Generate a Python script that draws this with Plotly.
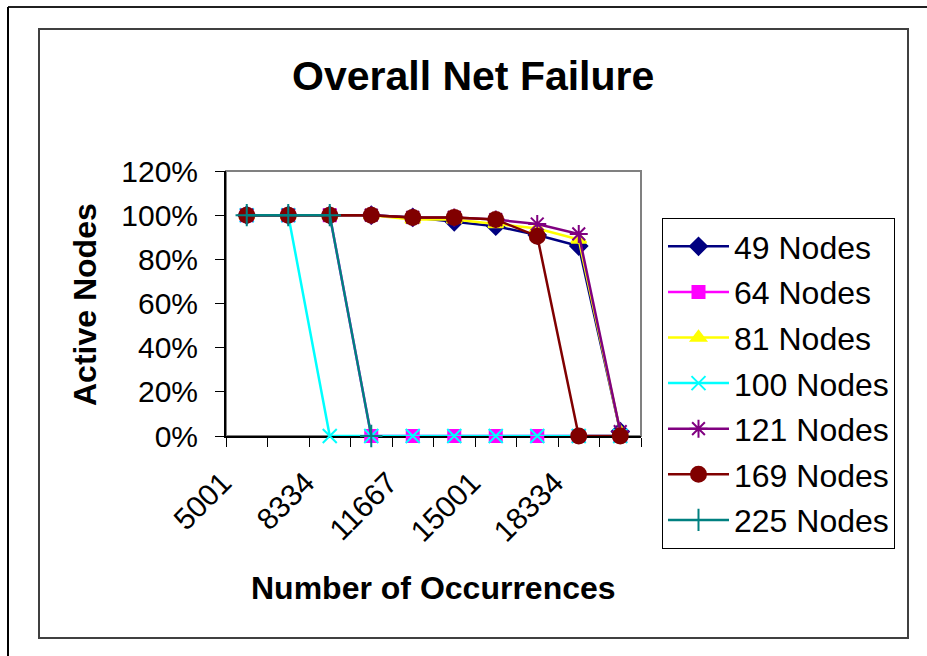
import plotly.graph_objects as go

categories = ["5001", "6667", "8334", "10001", "11667", "13334", "15001", "16667", "18334", "20001"]
tick_labels = ["5001", "", "8334", "", "11667", "", "15001", "", "18334", ""]

nodes_49 = [1.00, 1.00, 1.00, 1.00, 0.99, 0.97, 0.95, 0.91, 0.86, 0.02]
nodes_64 = [1.00, 1.00, 1.00, 0.00, 0.00, 0.00, 0.00, 0.00, 0.00, 0.00]
nodes_81 = [1.00, 1.00, 1.00, 1.00, 0.98, 0.98, 0.96, 0.94, 0.89, 0.02]
nodes_100 = [1.00, 1.00, 0.00, 0.00, 0.00, 0.00, 0.00, 0.00, 0.00, 0.00]
nodes_121 = [1.00, 1.00, 1.00, 1.00, 0.99, 0.99, 0.98, 0.96, 0.915, 0.02]
nodes_169 = [1.00, 1.00, 1.00, 1.00, 0.99, 0.99, 0.98, 0.905, 0.00, 0.00]
nodes_225 = [1.00, 1.00, 1.00, 0.00, None, None, None, None, None, None]

series_names = ["49 Nodes", "64 Nodes", "81 Nodes", "100 Nodes", "121 Nodes", "169 Nodes", "225 Nodes"]
series_values = [nodes_49, nodes_64, nodes_81, nodes_100, nodes_121, nodes_169, nodes_225]
series_colors = ["#000080", "#FF00FF", "#FFFF00", "#00FFFF", "#800080", "#800000", "#008080"]
series_symbols = ["diamond", "square", "triangle-up", "x-thin-open", "asterisk-open", "circle", "cross-thin-open"]
series_sizes = [13, 12, 13, 14, 15, 15, 16]

FONT = "Liberation Sans, Arial, sans-serif"

fig = go.Figure()
for i, (name, vals, col, sym, sz) in enumerate(zip(series_names, series_values, series_colors, series_symbols, series_sizes)):
    fig.add_trace(go.Scatter(
        x=categories, y=vals, name=name, mode="lines+markers",
        line=dict(color=col, width=2.5),
        marker=dict(symbol=sym, size=sz, color=col, line=dict(color=col, width=2)),
        cliponaxis=False, connectgaps=False, legendgroup=f"g{i}",
    ))

# plot-area geometry (pixels) used for decorative frames
L, R, T, B = 226, 641, 171, 436
W, H = 927, 656
def px(x):
    return (x - L) / (R - L)
def py(y):
    return (B - y) / (B - T)

shapes = [
    dict(type="rect", xref="paper", yref="paper", x0=0, x1=1, y0=0, y1=1,
         line=dict(color="#808080", width=2), layer="below"),
    dict(type="rect", xref="paper", yref="paper", x0=px(39), x1=px(908), y0=py(638), y1=py(29),
         line=dict(color="#404040", width=2), layer="below"),
    dict(type="line", xref="paper", yref="paper", x0=px(8), x1=px(930), y0=py(7), y1=py(7),
         line=dict(color="#202020", width=2), layer="below"),
    dict(type="line", xref="paper", yref="paper", x0=px(8), x1=px(8), y0=py(7), y1=py(660),
         line=dict(color="#000000", width=2), layer="below"),
]

annotations = [
    dict(text="<b>Overall Net Failure</b>", xref="paper", yref="paper", x=px(473), y=py(76),
         showarrow=False, xanchor="center", yanchor="middle", font=dict(family=FONT, size=41, color="black")),
    dict(text="<b>Number of Occurrences</b>", xref="paper", yref="paper", x=px(433.5), y=py(588),
         showarrow=False, xanchor="center", yanchor="middle", font=dict(family=FONT, size=32, color="black")),
    dict(text="<b>Active Nodes</b>", xref="paper", yref="paper", x=px(85), y=py(305),
         showarrow=False, xanchor="center", yanchor="middle", textangle=-90,
         font=dict(family=FONT, size=32, color="black")),
]

fig.update_layout(
    width=W, height=H,
    margin=dict(l=L, r=W - R, t=T, b=H - B, pad=0),
    paper_bgcolor="white", plot_bgcolor="white",
    font=dict(family=FONT, color="black"),
    showlegend=True,
    legend=dict(
        x=px(662), y=py(218), xanchor="left", yanchor="top",
        bgcolor="white", bordercolor="black", borderwidth=1,
        font=dict(family=FONT, size=32, color="black"),
        tracegroupgap=1, itemwidth=61, maxheight=420,
    ),
    shapes=shapes, annotations=annotations,
)

fig.update_xaxes(
    type="category", categoryorder="array", categoryarray=categories,
    range=[-0.5, len(categories) - 0.5],
    tickvals=categories, ticktext=tick_labels, tickangle=-45,
    tickson="boundaries", ticks="outside", ticklen=9, tickcolor="black", tickwidth=1,
    showline=True, linecolor="black", linewidth=2, showgrid=False, zeroline=False,
    tickfont=dict(family=FONT, size=30, color="black"), layer="below traces",
    ticklabelshift=-24, ticklabelstandoff=15,
)
fig.update_yaxes(
    range=[0, 1.2], dtick=0.2, tick0=0, tickformat=".0%",
    ticks="outside", ticklen=9, tickcolor="black", tickwidth=1,
    showline=True, linecolor="black", linewidth=2, showgrid=False, zeroline=False,
    tickfont=dict(family=FONT, size=30, color="black"), layer="below traces",
    ticklabelstandoff=11,
)

fig.write_html("out.html", config={"displayModeBar": False},
               post_script="document.body.style.margin='0px';")
